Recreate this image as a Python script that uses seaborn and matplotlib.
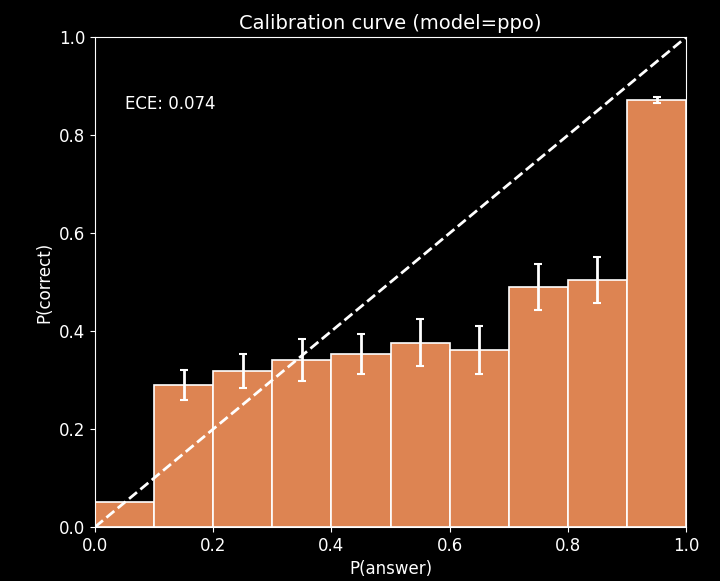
import matplotlib
matplotlib.use("Agg")
import matplotlib.pyplot as plt
import seaborn as sns
import numpy as np
import pandas as pd

bin_edges = [0.0, 0.1, 0.2, 0.3, 0.4, 0.5, 0.6, 0.7, 0.8, 0.9, 1.0]
bin_centers = [0.05, 0.15, 0.25, 0.35, 0.45, 0.55, 0.65, 0.75, 0.85, 0.95]
p_correct = [0.051, 0.290, 0.318, 0.341, 0.353, 0.376, 0.361, 0.490, 0.504, 0.871]
err = [0.0, 0.030, 0.035, 0.043, 0.041, 0.048, 0.049, 0.047, 0.047, 0.006]
ece_label = "ECE: 0.074"

plt.style.use("dark_background")
plt.rcParams["font.family"] = ["DejaVu Sans"]

fig = plt.figure(figsize=(7.2, 5.81), dpi=100)
ax = fig.add_axes([0.132, 0.093, 0.821, 0.843])

df = pd.DataFrame({"conf": bin_centers, "acc": p_correct})
sns.histplot(data=df, x="conf", weights="acc", bins=bin_edges, ax=ax,
             color="#DD8452", alpha=1.0, edgecolor="white", linewidth=1.2)
ax.errorbar(bin_centers[1:], p_correct[1:], yerr=err[1:], fmt="none",
            ecolor="white", elinewidth=2, capsize=3, capthick=1.5)
ax.plot([0, 1], [0, 1], linestyle="--", color="white", linewidth=2)

ax.set_xlim(0, 1)
ax.set_ylim(0, 1)
ax.set_xlabel("P(answer)", fontsize=12)
ax.set_ylabel("P(correct)", fontsize=12)
ax.set_title("Calibration curve (model=ppo)", fontsize=14)
ax.tick_params(labelsize=12)
ax.text(0.05, 0.863, ece_label, fontsize=12, color="white", va="center")

fig.savefig("out.png", dpi=100, facecolor="black")
